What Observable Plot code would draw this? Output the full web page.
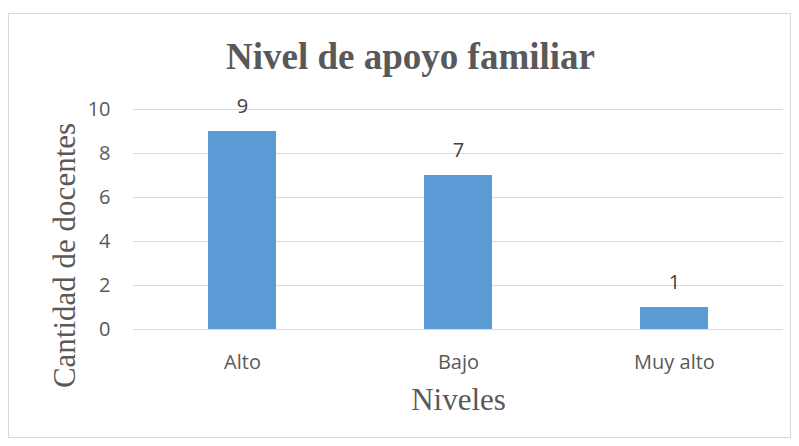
<!DOCTYPE html>
<html>
<head>
<meta charset="utf-8">
<script src="https://cdn.jsdelivr.net/npm/d3@7"></script>
<script src="https://cdn.jsdelivr.net/npm/@observablehq/plot@0.6"></script>
<style>
  html, body { margin: 0; padding: 0; background: #fff; }
</style>
</head>
<body>
<div id="chart"></div>
<script>
const categories = ["Alto", "Bajo", "Muy alto"];
const counts = [9, 7, 1];
const yTicks = [0, 2, 4, 6, 8, 10];
const title = "Nivel de apoyo familiar";
const xTitle = "Niveles";
const yTitle = "Cantidad de docentes";

const data = categories.map((c, i) => ({nivel: c, n: counts[i]}));
const textColor = "#595959";

const chart = Plot.plot({
  width: 799,
  height: 446,
  marginLeft: 133,
  marginRight: 16,
  marginTop: 109,
  marginBottom: 117,
  style: {background: "#fff", color: textColor},
  x: {domain: categories, paddingInner: 0.686, paddingOuter: 0.343, label: null},
  y: {domain: [0, 10], label: null},
  marks: [
    Plot.frame({stroke: "#d9d9d9", insetLeft: -125, insetTop: -96, insetRight: -7, insetBottom: -108}),
    Plot.gridY(yTicks, {stroke: "#d9d9d9", strokeOpacity: 1}),
    Plot.axisY(yTicks, {tickSize: 0, tickPadding: 23, fontSize: 20, fontFamily: "Open Sans", fill: textColor, label: null}),
    Plot.axisX({tickSize: 0, tickPadding: 25, fontSize: 20, fontFamily: "Open Sans", fill: textColor, label: null}),
    Plot.barY(data, {x: "nivel", y: "n", fill: "#5b9bd5"}),
    Plot.text(data, {x: "nivel", y: "n", text: d => String(d.n), dy: -25, fontSize: 20, fontFamily: "Open Sans", fill: "#404040"}),
    Plot.text([title], {frameAnchor: "top", text: d => d, textAnchor: "middle", dx: -48, dy: -67, fontSize: 37, fontWeight: "bold", fontFamily: "Liberation Serif", fill: textColor}),
    Plot.text([xTitle], {frameAnchor: "bottom", text: d => d, textAnchor: "middle", dy: 80, fontSize: 31, fontFamily: "Liberation Serif", fill: textColor}),
    Plot.text([yTitle], {frameAnchor: "left", text: d => d, textAnchor: "middle", lineAnchor: "middle", rotate: -90, dx: -68, dy: 36, fontSize: 31, fontFamily: "Liberation Serif", fill: textColor})
  ]
});
document.getElementById("chart").appendChild(chart);
</script>
</body>
</html>
